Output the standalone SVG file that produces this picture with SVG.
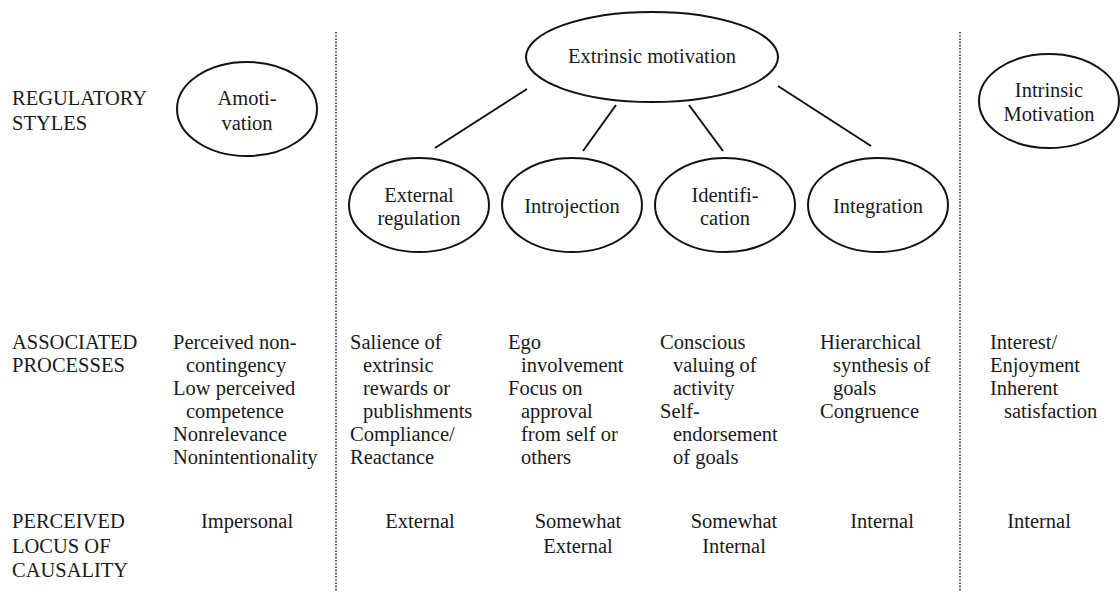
<svg xmlns="http://www.w3.org/2000/svg" width="1120" height="592" viewBox="0 0 1120 592" font-family="'Liberation Serif', 'DejaVu Serif', serif">
<style>
text{font-family:'Liberation Serif','Times New Roman','DejaVu Serif',serif;font-size:20.5px;fill:#1a1a1a}
.c{text-anchor:middle}
.node ellipse{fill:#fff;stroke:#111;stroke-width:2}
.conn line{stroke:#111;stroke-width:2}
.div{stroke:#333;stroke-width:1.6;stroke-dasharray:1.6 1.6}
</style>
<rect width="1120" height="592" fill="#fff"/>
<line class="div" x1="336" y1="32" x2="336" y2="592"/>
<line class="div" x1="960" y1="32" x2="960" y2="592"/>
<g id="labels">
<text x="12" y="105">REGULATORY</text>
<text x="12" y="130">STYLES</text>
<text x="12" y="349">ASSOCIATED</text>
<text x="12" y="372">PROCESSES</text>
<text x="12" y="528">PERCEIVED</text>
<text x="12" y="553">LOCUS OF</text>
<text x="12" y="577">CAUSALITY</text>
</g>
<g class="conn" id="connectors">
<line x1="527" y1="89" x2="435" y2="148"/>
<line x1="616" y1="105" x2="583" y2="151"/>
<line x1="689" y1="105" x2="723" y2="151"/>
<line x1="778" y1="86" x2="871" y2="146"/>
</g>
<g class="node" id="extrinsic">
<ellipse cx="652" cy="57" rx="126" ry="45"/>
<text class="c" x="652" y="63">Extrinsic motivation</text>
</g>
<g class="node" id="amotivation">
<ellipse cx="247" cy="109" rx="70" ry="47"/>
<text class="c" x="247" y="105">Amoti-</text>
<text class="c" x="247" y="130">vation</text>
</g>
<g class="node" id="intrinsic">
<ellipse cx="1049" cy="101" rx="70" ry="47"/>
<text class="c" x="1049" y="97">Intrinsic</text>
<text class="c" x="1049" y="121">Motivation</text>
</g>
<g class="node" id="external">
<ellipse cx="419" cy="205" rx="70" ry="47"/>
<text class="c" x="419" y="202">External</text>
<text class="c" x="419" y="225">regulation</text>
</g>
<g class="node" id="introjection">
<ellipse cx="572" cy="205" rx="70" ry="47"/>
<text class="c" x="572" y="213">Introjection</text>
</g>
<g class="node" id="identification">
<ellipse cx="725" cy="205" rx="70" ry="47"/>
<text class="c" x="725" y="202">Identifi-</text>
<text class="c" x="725" y="225">cation</text>
</g>
<g class="node" id="integration">
<ellipse cx="878" cy="205" rx="70" ry="47"/>
<text class="c" x="878" y="213">Integration</text>
</g>
<g id="processes">
<text x="173" y="349">Perceived non-</text>
<text x="186" y="372">contingency</text>
<text x="173" y="395">Low perceived</text>
<text x="186" y="418">competence</text>
<text x="173" y="441">Nonrelevance</text>
<text x="173" y="464">Nonintentionality</text>
<text x="350" y="349">Salience of</text>
<text x="363" y="372">extrinsic</text>
<text x="363" y="395">rewards or</text>
<text x="363" y="418">publishments</text>
<text x="350" y="441">Compliance/</text>
<text x="350" y="464">Reactance</text>
<text x="508" y="349">Ego</text>
<text x="521" y="372">involvement</text>
<text x="508" y="395">Focus on</text>
<text x="521" y="418">approval</text>
<text x="521" y="441">from self or</text>
<text x="521" y="464">others</text>
<text x="660" y="349">Conscious</text>
<text x="673" y="372">valuing of</text>
<text x="673" y="395">activity</text>
<text x="660" y="418">Self-</text>
<text x="673" y="441">endorsement</text>
<text x="673" y="464">of goals</text>
<text x="820" y="349">Hierarchical</text>
<text x="833" y="372">synthesis of</text>
<text x="833" y="395">goals</text>
<text x="820" y="418">Congruence</text>
<text x="990" y="349">Interest/</text>
<text x="990" y="372">Enjoyment</text>
<text x="990" y="395">Inherent</text>
<text x="1004" y="418">satisfaction</text>
</g>
<g id="locus">
<text class="c" x="247" y="528">Impersonal</text>
<text class="c" x="420" y="528">External</text>
<text class="c" x="578" y="528">Somewhat</text>
<text class="c" x="578" y="553">External</text>
<text class="c" x="734" y="528">Somewhat</text>
<text class="c" x="734" y="553">Internal</text>
<text class="c" x="882" y="528">Internal</text>
<text class="c" x="1039" y="528">Internal</text>
</g>
</svg>
